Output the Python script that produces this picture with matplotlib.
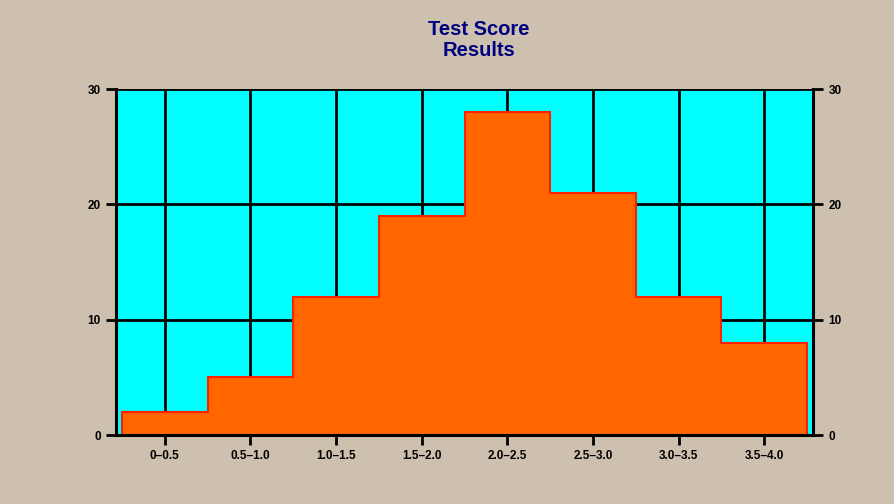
import numpy as np
import matplotlib.pyplot as plt

# score bins and counts
bins = ["0–0.5", "0.5–1.0", "1.0–1.5", "1.5–2.0",
        "2.0–2.5", "2.5–3.0", "3.0–3.5", "3.5–4.0"]
counts = [2, 5, 12, 19, 28, 21, 12, 8]
y_ticks = [0, 10, 20, 30]

BG = "#CDC0AE"

plt.rcParams['font.family'] = ['Liberation Sans', 'DejaVu Sans']

fig = plt.figure(figsize=(8.95, 5.04), dpi=100, facecolor=BG)
ax = fig.add_axes([0.1296, 0.1369, 0.7788, 0.6865])
ax.set_facecolor("#00FFFF")

x = np.arange(len(bins))
edges = np.concatenate([x - 0.5, [x[-1] + 0.5]])
ax.stairs(counts, edges, fill=True, facecolor="#FF6600",
          edgecolor="#FF2000", linewidth=1.5, zorder=3)

ax.set_xlim(-0.57, 7.57)
ax.set_ylim(0, 30)
ax.set_xticks(x)
ax.set_xticklabels(bins)
ax.set_yticks(y_ticks)

ax.grid(True, color="black", linewidth=2, zorder=1)
ax.set_axisbelow(True)

for side in ["left", "right", "bottom"]:
    ax.spines[side].set_linewidth(2.2)
    ax.spines[side].set_zorder(4)
ax.spines["top"].set_visible(False)

ax.tick_params(axis="both", direction="out", length=7, width=2,
               labelsize=8.5, colors="black", pad=4)
ax.tick_params(axis="y", right=True, labelright=True)
for lbl in ax.get_xticklabels() + ax.get_yticklabels():
    lbl.set_fontweight("bold")

fig.text(0.535, 0.921, "Test Score\nResults", ha="center", va="center",
         fontsize=14.5, fontweight="bold", color="#000080", linespacing=1.15)

fig.savefig("out.png", dpi=100, facecolor=BG)
